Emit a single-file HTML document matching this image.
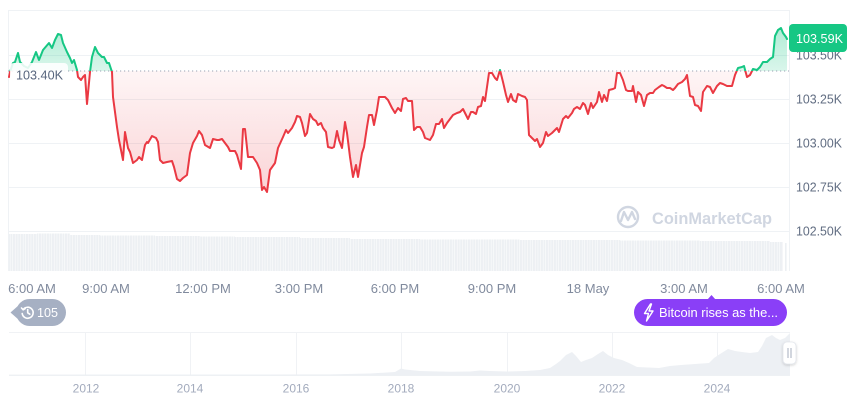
<!DOCTYPE html>
<html><head><meta charset="utf-8"><style>
html,body{margin:0;padding:0;background:#fff;}
svg{display:block;font-family:"Liberation Sans",Arial,sans-serif;}
</style></head><body>
<svg width="860" height="401" viewBox="0 0 860 401" xmlns="http://www.w3.org/2000/svg">
<defs>
<clipPath id="up"><rect x="0" y="0" width="860" height="71"/></clipPath>
<clipPath id="dn"><rect x="0" y="71" width="860" height="230"/></clipPath>
<linearGradient id="gr" gradientUnits="userSpaceOnUse" x1="0" y1="71" x2="0" y2="195">
<stop offset="0" stop-color="#ea3943" stop-opacity="0.05"/>
<stop offset="1" stop-color="#ea3943" stop-opacity="0.22"/>
</linearGradient>
<linearGradient id="gg" gradientUnits="userSpaceOnUse" x1="0" y1="28" x2="0" y2="71">
<stop offset="0" stop-color="#16c784" stop-opacity="0.34"/>
<stop offset="1" stop-color="#16c784" stop-opacity="0.16"/>
</linearGradient>
<pattern id="vol" width="2.6" height="10" patternUnits="userSpaceOnUse">
<rect x="0" y="0" width="2.1" height="10" fill="#edf0f3"/>
</pattern>
<filter id="sh" x="-50%" y="-50%" width="200%" height="200%"><feDropShadow dx="0" dy="1" stdDeviation="1.2" flood-color="#000" flood-opacity="0.18"/></filter>
<path id="lnp" d="M9,77 L10,72 L13,63 L15,62 L18,53 L20,62 L24,66 L28,68 L32,62 L36,52 L39,60 L43,50 L49,43 L52,48 L55,40 L58,34 L61,35 L63,43 L67,52 L70,58 L72,63 L74,60 L77,70 L78,77 L81,80 L83,77 L85,75 L87,104 L90,72 L92,57 L95,47 L98,53 L102,57 L104,57 L107,63 L109,63 L112,72 L113,97 L117,127 L119,140 L123,160 L125,132 L128,148 L130,152 L133,163 L137,160 L139,157 L142,160 L145,145 L147,142 L148,143 L152,136 L156,138 L158,142 L160,160 L163,163 L167,162 L172,161 L174,167 L177,179 L180,181 L183,178 L187,175 L190,153 L193,143 L197,136 L199,131 L202,135 L205,145 L210,148 L213,139 L217,140 L219,140 L222,139 L225,143 L228,147 L230,151 L235,151 L237,155 L241,169 L243,129 L245,129 L248,157 L253,157 L257,163 L260,170 L262,190 L264,187 L267,192 L270,170 L275,163 L278,148 L283,137 L286,130 L288,133 L292,128 L295,122 L297,116 L300,117 L302,123 L305,136 L307,133 L310,114 L313,119 L316,121 L318,125 L321,123 L323,128 L326,132 L328,147 L332,148 L334,147 L337,131 L339,140 L342,148 L345,122 L347,133 L350,157 L353,177 L356,165 L358,177 L362,153 L364,147 L367,127 L369,115 L372,115 L374,125 L377,110 L379,97 L382,97 L385,97 L388,100 L392,108 L395,113 L398,108 L401,111 L403,99 L406,98 L408,101 L412,101 L414,130 L417,127 L420,127 L423,132 L425,138 L430,140 L433,135 L436,124 L439,124 L442,119 L444,128 L447,123 L450,119 L453,115 L457,113 L460,112 L463,109 L465,113 L468,119 L471,112 L473,112 L476,114 L478,107 L481,106 L483,97 L485,101 L489,73 L492,73 L495,78 L497,80 L500,70 L503,82 L506,95 L508,102 L511,94 L513,100 L516,102 L518,94 L522,96 L525,97 L527,100 L529,135 L532,138 L535,141 L537,139 L540,147 L543,143 L546,132 L548,136 L552,133 L554,131 L557,128 L559,132 L563,119 L566,116 L568,118 L572,113 L574,109 L577,107 L580,109 L583,103 L585,105 L588,114 L591,103 L593,108 L597,102 L599,92 L602,102 L604,95 L607,101 L609,90 L613,89 L615,88 L617,73 L620,73 L623,80 L626,90 L628,91 L632,91 L633,86 L636,102 L638,92 L641,95 L644,106 L647,95 L650,93 L653,93 L655,90 L659,87 L662,85 L664,86 L667,88 L670,88 L673,90 L675,88 L678,84 L682,82 L685,79 L687,75 L690,96 L693,97 L695,105 L698,106 L701,111 L703,92 L707,86 L710,87 L713,93 L717,86 L720,83 L723,84 L727,86 L732,86 L735,75 L738,68 L742,67 L744,66 L747,77 L750,75 L753,69 L757,70 L760,67 L763,62 L767,62 L770,59 L773,57 L775,36 L778,30 L781,28 L783,33 L786,37 L787,39"/>
<path id="ap" d="M9,77 L10,72 L13,63 L15,62 L18,53 L20,62 L24,66 L28,68 L32,62 L36,52 L39,60 L43,50 L49,43 L52,48 L55,40 L58,34 L61,35 L63,43 L67,52 L70,58 L72,63 L74,60 L77,70 L78,77 L81,80 L83,77 L85,75 L87,104 L90,72 L92,57 L95,47 L98,53 L102,57 L104,57 L107,63 L109,63 L112,72 L113,97 L117,127 L119,140 L123,160 L125,132 L128,148 L130,152 L133,163 L137,160 L139,157 L142,160 L145,145 L147,142 L148,143 L152,136 L156,138 L158,142 L160,160 L163,163 L167,162 L172,161 L174,167 L177,179 L180,181 L183,178 L187,175 L190,153 L193,143 L197,136 L199,131 L202,135 L205,145 L210,148 L213,139 L217,140 L219,140 L222,139 L225,143 L228,147 L230,151 L235,151 L237,155 L241,169 L243,129 L245,129 L248,157 L253,157 L257,163 L260,170 L262,190 L264,187 L267,192 L270,170 L275,163 L278,148 L283,137 L286,130 L288,133 L292,128 L295,122 L297,116 L300,117 L302,123 L305,136 L307,133 L310,114 L313,119 L316,121 L318,125 L321,123 L323,128 L326,132 L328,147 L332,148 L334,147 L337,131 L339,140 L342,148 L345,122 L347,133 L350,157 L353,177 L356,165 L358,177 L362,153 L364,147 L367,127 L369,115 L372,115 L374,125 L377,110 L379,97 L382,97 L385,97 L388,100 L392,108 L395,113 L398,108 L401,111 L403,99 L406,98 L408,101 L412,101 L414,130 L417,127 L420,127 L423,132 L425,138 L430,140 L433,135 L436,124 L439,124 L442,119 L444,128 L447,123 L450,119 L453,115 L457,113 L460,112 L463,109 L465,113 L468,119 L471,112 L473,112 L476,114 L478,107 L481,106 L483,97 L485,101 L489,73 L492,73 L495,78 L497,80 L500,70 L503,82 L506,95 L508,102 L511,94 L513,100 L516,102 L518,94 L522,96 L525,97 L527,100 L529,135 L532,138 L535,141 L537,139 L540,147 L543,143 L546,132 L548,136 L552,133 L554,131 L557,128 L559,132 L563,119 L566,116 L568,118 L572,113 L574,109 L577,107 L580,109 L583,103 L585,105 L588,114 L591,103 L593,108 L597,102 L599,92 L602,102 L604,95 L607,101 L609,90 L613,89 L615,88 L617,73 L620,73 L623,80 L626,90 L628,91 L632,91 L633,86 L636,102 L638,92 L641,95 L644,106 L647,95 L650,93 L653,93 L655,90 L659,87 L662,85 L664,86 L667,88 L670,88 L673,90 L675,88 L678,84 L682,82 L685,79 L687,75 L690,96 L693,97 L695,105 L698,106 L701,111 L703,92 L707,86 L710,87 L713,93 L717,86 L720,83 L723,84 L727,86 L732,86 L735,75 L738,68 L742,67 L744,66 L747,77 L750,75 L753,69 L757,70 L760,67 L763,62 L767,62 L770,59 L773,57 L775,36 L778,30 L781,28 L783,33 L786,37 L787,39 L787,71 L9,71 Z"/>
</defs>

<!-- grid -->
<g stroke="#eff2f5" stroke-width="1">
<line x1="8" y1="10.5" x2="789" y2="10.5"/>
<line x1="8" y1="55.5" x2="789" y2="55.5"/>
<line x1="8" y1="99.5" x2="789" y2="99.5"/>
<line x1="8" y1="143.5" x2="789" y2="143.5"/>
<line x1="8" y1="187.5" x2="789" y2="187.5"/>
<line x1="8" y1="231.5" x2="789" y2="231.5"/>
<line x1="8.5" y1="10" x2="8.5" y2="271"/>
<line x1="789.5" y1="10" x2="789.5" y2="271"/>
</g>

<!-- volume -->
<path fill="url(#vol)" d="M9,234 L37,234 L37,233.5 L70,233.5 L70,235 L100,235 L100,235.5 L155,235.5 L155,236 L200,236 L200,236.5 L235,236.5 L235,237 L300,237 L300,238 L350,238 L350,239 L420,239 L420,239.5 L520,239.5 L520,240 L620,240 L620,240.5 L700,240.5 L700,241 L770,241 L770,242 L783,242 L783,271 L9,271 Z"/>
<rect x="785" y="243" width="1.6" height="28" fill="#edf0f3"/>

<!-- watermark -->
<g stroke="#d0d6e1" stroke-width="2.4" fill="none" stroke-linecap="round" stroke-linejoin="round">
<circle cx="628" cy="217" r="10"/>
<path d="M621,221 L624,212 L628,220 L632,212 L635,219"/>
</g>
<text x="652" y="224" font-size="16.5" font-weight="bold" fill="#d0d6e1" textLength="120" lengthAdjust="spacingAndGlyphs">CoinMarketCap</text>

<!-- price area -->
<use href="#ap" clip-path="url(#dn)" fill="url(#gr)"/>
<use href="#ap" clip-path="url(#up)" fill="url(#gg)"/>

<!-- ref dotted line -->
<line x1="8" y1="71" x2="789" y2="71" stroke="#9aa3b3" stroke-width="1" stroke-dasharray="1.2 2.8"/>

<!-- price line -->
<g fill="none" stroke-width="2" stroke-linejoin="round" stroke-linecap="round">
<use href="#lnp" clip-path="url(#dn)" stroke="#ea3943"/>
<use href="#lnp" clip-path="url(#up)" stroke="#16c784"/>
</g>

<!-- left ref label -->
<rect x="10" y="63" width="58" height="18" rx="4" fill="#fff" fill-opacity="0.88"/>
<text x="16" y="79.5" font-size="13" fill="#58667e" textLength="47" lengthAdjust="spacingAndGlyphs">103.40K</text>

<!-- y labels -->
<g font-size="12.5" fill="#616d82">
<text x="796" y="59.5" textLength="46" lengthAdjust="spacingAndGlyphs">103.50K</text>
<text x="796" y="103.5" textLength="46" lengthAdjust="spacingAndGlyphs">103.25K</text>
<text x="796" y="147.5" textLength="46" lengthAdjust="spacingAndGlyphs">103.00K</text>
<text x="796" y="191.5" textLength="46" lengthAdjust="spacingAndGlyphs">102.75K</text>
<text x="796" y="235.5" textLength="46" lengthAdjust="spacingAndGlyphs">102.50K</text>
</g>
<rect x="789" y="24" width="58" height="28" rx="4" fill="#16c784"/>
<text x="796" y="43" font-size="13" fill="#fff" textLength="47" lengthAdjust="spacingAndGlyphs">103.59K</text>

<!-- x labels -->
<g font-size="13" fill="#808a9d" text-anchor="middle">
<text x="32" y="293">6:00 AM</text>
<text x="106" y="293">9:00 AM</text>
<text x="203" y="293">12:00 PM</text>
<text x="299" y="293">3:00 PM</text>
<text x="395" y="293">6:00 PM</text>
<text x="492" y="293">9:00 PM</text>
<text x="588" y="293">18 May</text>
<text x="684" y="293">3:00 AM</text>
<text x="781" y="293">6:00 AM</text>
</g>

<!-- 105 badge -->
<path d="M10.5,312.5 L19,305 L19,320 Z" fill="#a6b0c3"/>
<rect x="16" y="299" width="50" height="27" rx="13.5" fill="#a6b0c3"/>
<g fill="none" stroke="#fff" stroke-width="1.6" stroke-linecap="round" stroke-linejoin="round">
<path d="M23.2,309.5 A5.5,5.5 0 1 1 22.2,313.5"/>
<path d="M21.5,308 L23.2,309.8 L25.2,308.6"/>
<path d="M27.7,309.5 L27.7,312.8 L29.8,314.2"/>
</g>
<text x="37" y="317" font-size="13" fill="#fff" textLength="21" lengthAdjust="spacingAndGlyphs">105</text>

<!-- purple news badge -->
<path d="M707.5,299.5 L711.5,295 L715.5,299.5 Z" fill="#8a3ff7"/>
<rect x="634" y="299" width="153" height="27" rx="13.5" fill="#8a3ff7"/>
<path d="M650.5,304 L644.5,313.5 L648.5,313.5 L646.5,321 L653,311 L649,311 L651.5,304 Z" fill="none" stroke="#fff" stroke-width="1.4" stroke-linejoin="round"/>
<text x="659" y="317" font-size="13" fill="#fff" textLength="119" lengthAdjust="spacingAndGlyphs">Bitcoin rises as the...</text>

<!-- navigator -->
<g stroke="#f0f2f5" stroke-width="1">
<line x1="9" y1="332.5" x2="790" y2="332.5"/>
<line x1="85.5" y1="332" x2="85.5" y2="375"/>
<line x1="190.5" y1="332" x2="190.5" y2="375"/>
<line x1="296.5" y1="332" x2="296.5" y2="375"/>
<line x1="401.5" y1="332" x2="401.5" y2="375"/>
<line x1="507.5" y1="332" x2="507.5" y2="375"/>
<line x1="612.5" y1="332" x2="612.5" y2="375"/>
<line x1="717.5" y1="332" x2="717.5" y2="375"/>
</g>
<path fill="#edf0f4" d="M9,375 L9,374.6 L330,374.4 L370,373.5 L395,372 L401,368.5 L405,369.5 L420,371 L450,371.8 L470,371.5 L480,370.5 L490,371 L507,371.5 L525,371 L540,370 L550,368 L556,364 L560,361 L566,355 L572,352 L576,356 L581,362 L586,360 L592,358 L598,354 L603,351 L608,355 L614,358 L622,360 L629,363 L637,367 L648,367.5 L659,368 L670,366 L681,365 L695,364 L709,363 L714,358 L720,354 L728,349 L735,351 L742,352 L750,353 L758,352 L762,346 L766,338 L772,335 L776,338 L780,340 L785,338 L790,333 L790,375 Z"/>
<line x1="9" y1="375.5" x2="790" y2="375.5" stroke="#eef1f4" stroke-width="1"/>
<rect x="783" y="342" width="13" height="22" rx="4" fill="#fff" stroke="#e3e6ec" stroke-width="0.8" filter="url(#sh)"/>
<g stroke="#a6aebd" stroke-width="1"><line x1="788" y1="348" x2="788" y2="358"/><line x1="791" y1="348" x2="791" y2="358"/></g>

<g font-size="12" fill="#a3abbd" text-anchor="middle">
<text x="86" y="392.5">2012</text>
<text x="190" y="392.5">2014</text>
<text x="296" y="392.5">2016</text>
<text x="401" y="392.5">2018</text>
<text x="507" y="392.5">2020</text>
<text x="612" y="392.5">2022</text>
<text x="717" y="392.5">2024</text>
</g>
</svg>
</body></html>
